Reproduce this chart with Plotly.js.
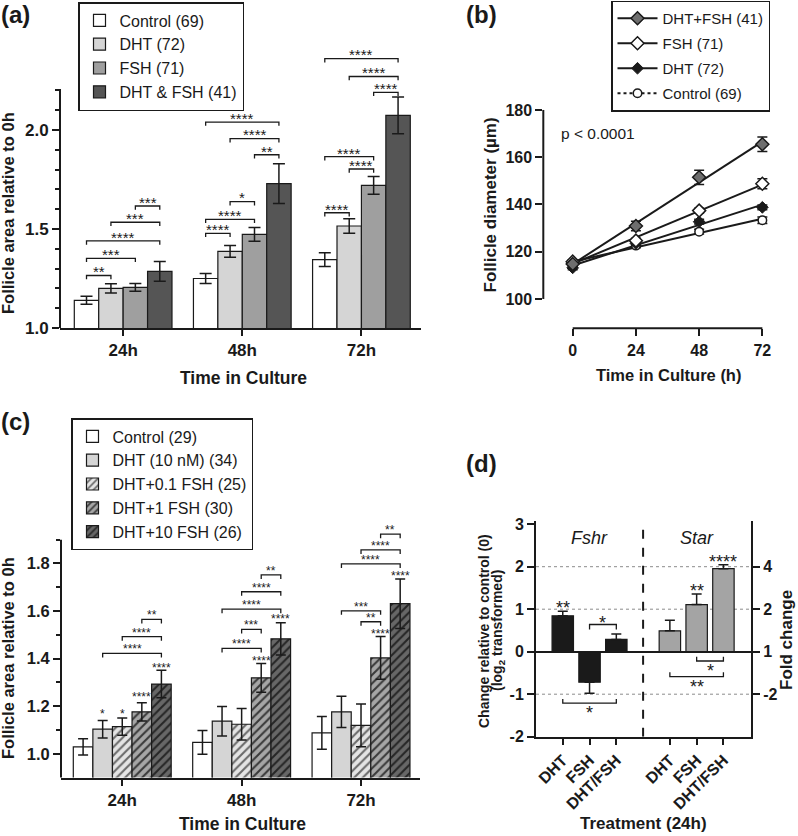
<!DOCTYPE html>
<html>
<head>
<meta charset="utf-8">
<script src="https://cdn.plot.ly/plotly-3.0.1.min.js"></script>
<style>html,body{margin:0;padding:0;background:#fff}#chart{width:798px;height:836px}</style>
</head>
<body>
<div id="chart"></div>
<script>
// ================= DATA =================
// ---- Panel (a): follicle area relative to 0h ----
const timepointsA = ['24h', '48h', '72h'];
const groupsA = ['Control (69)', 'DHT (72)', 'FSH (71)', 'DHT & FSH (41)'];
const controlA = [1.14, 1.25, 1.345];
const controlAErr = [0.02, 0.025, 0.035];
const dhtA = [1.20, 1.387, 1.515];
const dhtAErr = [0.023, 0.03, 0.037];
const fshA = [1.205, 1.473, 1.72];
const fshAErr = [0.02, 0.035, 0.045];
const dhtFshA = [1.286, 1.729, 2.074];
const dhtFshAErr = [0.05, 0.1, 0.093];
const yTickValsA = [1.0, 1.5, 2.0];
const yTickTextA = ['1.0', '1.5', '2.0'];
const yMinorA = [1.1, 1.2, 1.3, 1.4, 1.6, 1.7, 1.8, 1.9, 2.1, 2.2];
// significance brackets (a)
const sigTimeA  = [0, 0, 0, 0, 0, 1, 1, 1, 1, 1, 1, 2, 2, 2, 2, 2, 2];
const sigFromA  = [0, 0, 0, 1, 2, 0, 0, 1, 2, 1, 0, 0, 1, 0, 2, 1, 0];
const sigToA    = [1, 2, 3, 3, 3, 1, 2, 2, 3, 3, 3, 1, 2, 2, 3, 3, 3];
const sigLevelA = [1.265, 1.352, 1.44, 1.534, 1.616, 1.478, 1.549, 1.638, 1.875, 1.956, 2.04, 1.582, 1.803, 1.865, 2.19, 2.27, 2.36];
const sigLabelA = ['**', '***', '****', '***', '***', '****', '****', '*', '**', '****', '****', '****', '****', '****', '****', '****', '****'];

// ---- Panel (b): follicle diameter ----
const hoursB = [0, 24, 48, 72];
const seriesB = ['DHT+FSH (41)', 'FSH (71)', 'DHT (72)', 'Control (69)'];
const diamDhtFsh = [114.8, 130.9, 151.5, 165.5];
const diamDhtFshErr = [0.8, 2.0, 3.0, 3.1];
const diamFsh = [115.8, 124.7, 137.4, 148.8];
const diamFshErr = [0.8, 1.0, 1.0, 2.1];
const diamDht = [113.2, 123.5, 132.7, 138.8];
const diamDhtErr = [0.8, 0.9, 1.0, 1.0];
const diamControl = [115.1, 122.6, 128.5, 133.3];
const diamControlErr = [0.8, 0.9, 1.0, 1.4];
const yTickValsB = [100, 120, 140, 160, 180];
const pValueB = 'p < 0.0001';

// ---- Panel (c): DHT + FSH doses ----
const timepointsC = ['24h', '48h', '72h'];
const groupsC = ['Control (29)', 'DHT (10 nM) (34)', 'DHT+0.1 FSH (25)', 'DHT+1 FSH (30)', 'DHT+10 FSH (26)'];
const controlC = [1.029, 1.048, 1.088];
const controlCErr = [0.034, 0.05, 0.069];
const dhtC = [1.103, 1.137, 1.176];
const dhtCErr = [0.037, 0.062, 0.066];
const dht01C = [1.114, 1.124, 1.119];
const dht01CErr = [0.036, 0.066, 0.09];
const dht1C = [1.176, 1.319, 1.403];
const dht1CErr = [0.038, 0.06, 0.09];
const dht10C = [1.293, 1.483, 1.631];
const dht10CErr = [0.058, 0.068, 0.104];
const yTickValsC = [1.0, 1.2, 1.4, 1.6, 1.8];
const yTickTextC = ['1.0', '1.2', '1.4', '1.6', '1.8'];
const yMinorC = [1.1, 1.3, 1.5, 1.7, 1.9];
// stars vs control above bars (c)
const starTimeC  = [0, 0, 0, 0, 1, 1, 2, 2];
const starGroupC = [1, 2, 3, 4, 3, 4, 3, 4];
const starLevelC = [1.18, 1.18, 1.25, 1.373, 1.40, 1.576, 1.516, 1.759];
const starLabelC = ['*', '*', '****', '****', '****', '****', '****', '****'];
// significance brackets (c)
const sigTimeC  = [0, 0, 0, 1, 1, 1, 1, 1, 2, 2, 2, 2, 2];
const sigFromC  = [1, 2, 3, 1, 2, 1, 2, 3, 2, 1, 1, 2, 3];
const sigToC    = [4, 4, 4, 3, 3, 4, 4, 4, 3, 3, 4, 4, 4];
const sigLevelC = [1.422, 1.492, 1.565, 1.443, 1.523, 1.608, 1.681, 1.752, 1.555, 1.601, 1.798, 1.857, 1.923];
const sigLabelC = ['****', '****', '**', '****', '***', '****', '****', '**', '**', '***', '****', '****', '**'];

// ---- Panel (d): gene expression ----
const genesD = ['Fshr', 'Star'];
const treatmentsD = ['DHT', 'FSH', 'DHT/FSH'];
const fshrD = [0.844, -0.719, 0.289];
const fshrDErr = [0.11, 0.26, 0.13];
const starD = [0.492, 1.109, 1.953];
const starDErr = [0.25, 0.25, 0.094];
const yTickValsD = [-2, -1, 0, 1, 2, 3];
const yTickTextD = ['-2', '-1', '0', '1', '2', '3'];
const foldTickVals = [2, 1, 0, -1];
const foldTickText = ['4', '2', '1', '-2'];
const gridLevelsD = [2, 1, -1];
// stars above bars (d)
const starGeneD  = [0, 1, 1];
const starTreatD = [0, 1, 2];
const starLevelD = [1.11, 1.52, 2.21];
const starLabelD = ['**', '**', '****'];
// brackets (d)
const brGeneD  = [0, 0, 1, 1];
const brFromD  = [1, 0, 1, 0];
const brToD    = [2, 2, 2, 2];
const brLevelD = [0.64, -1.21, -0.219, -0.586];
const brSideD  = ['above', 'below', 'below', 'below'];
const brLabelD = ['*', '*', '*', '**'];

// ================= STYLE / LAYOUT HELPERS =================
const FONT = 'Liberation Sans, Arial, Helvetica, sans-serif';
const INK = '#1a1a1a';
const W = 798, H = 836;
const fx = p => p / W;
const fy = p => 1 - p / H;
const BARGAP = 0.18;

function barCenter(groupIdx, traceIdx, nTraces) {
  const w = (1 - BARGAP) / nTraces;
  return groupIdx - (1 - BARGAP) / 2 + (traceIdx + 0.5) * w;
}

const traces = [];
const annotations = [];
const shapes = [];

function addText(xref, yref, x, y, text, size, opts) {
  annotations.push(Object.assign({
    xref, yref, x, y, text, showarrow: false,
    font: {family: FONT, size: size, color: INK},
    xanchor: 'center', yanchor: 'middle'
  }, opts || {}));
}
function bracket(xref, yref, x0, x1, y, tick, dir) {
  // dir = +1 : legs point down ; dir = -1 : legs point up
  shapes.push({
    type: 'path', xref, yref, layer: 'above',
    path: `M${x0},${y - dir * tick} L${x0},${y} L${x1},${y} L${x1},${y - dir * tick}`,
    line: {color: INK, width: 1.3}
  });
}

// ================= PANEL (a) =================
const barsA = [controlA, dhtA, fshA, dhtFshA];
const errsA = [controlAErr, dhtAErr, fshAErr, dhtFshAErr];
const colorsA = ['#ffffff', '#d5d5d5', '#9f9f9f', '#555555'];
const xIdxA = timepointsA.map((_, i) => i);
groupsA.forEach((name, g) => {
  traces.push({
    type: 'bar', name: name, x: xIdxA, y: barsA[g], xaxis: 'x', yaxis: 'y', legend: 'legend',
    marker: {color: colorsA[g], line: {color: INK, width: 1.2}},
    error_y: {type: 'data', array: errsA[g], color: INK, thickness: 1.5, width: 6}
  });
});
sigLabelA.forEach((lab, k) => {
  const x0 = barCenter(sigTimeA[k], sigFromA[k], groupsA.length);
  const x1 = barCenter(sigTimeA[k], sigToA[k], groupsA.length);
  bracket('x', 'y', x0, x1, sigLevelA[k], 0.019, 1);
  addText('x', 'y', (x0 + x1) / 2, sigLevelA[k], lab, 15, {yshift: 7 - 0.22 * 15});
});

// ================= PANEL (b) =================
const diamB = [diamDhtFsh, diamFsh, diamDht, diamControl];
const diamErrB = [diamDhtFshErr, diamFshErr, diamDhtErr, diamControlErr];
const markB = [
  {symbol: 'diamond', size: 10, color: '#6e6e6e', line: {color: INK, width: 1.5}},
  {symbol: 'diamond', size: 10, color: '#ffffff', line: {color: INK, width: 1.5}},
  {symbol: 'diamond', size: 9, color: INK, line: {color: INK, width: 1}},
  {symbol: 'circle', size: 8.5, color: '#ffffff', line: {color: INK, width: 1.5}}
];
const dashB = ['solid', 'solid', 'solid', 'dot'];
function linFit(xs, ys) {
  const n = xs.length;
  const mx = xs.reduce((a, b) => a + b, 0) / n;
  const my = ys.reduce((a, b) => a + b, 0) / n;
  let sxy = 0, sxx = 0;
  for (let i = 0; i < n; i++) { sxy += (xs[i] - mx) * (ys[i] - my); sxx += (xs[i] - mx) * (xs[i] - mx); }
  const m = sxy / sxx;
  return {m: m, b: my - m * mx};
}
// regression lines
seriesB.forEach((name, k) => {
  const f = linFit(hoursB, diamB[k]);
  const xe = [hoursB[0], hoursB[hoursB.length - 1]];
  traces.push({
    type: 'scatter', mode: 'lines', x: xe, y: xe.map(v => f.b + f.m * v),
    xaxis: 'x2', yaxis: 'y2', showlegend: false, hoverinfo: 'skip',
    line: {color: INK, width: 2}
  });
});
// points with error bars (drawn back-to-front)
for (let k = seriesB.length - 1; k >= 0; k--) {
  traces.push({
    type: 'scatter', mode: 'markers', x: hoursB, y: diamB[k], name: seriesB[k],
    xaxis: 'x2', yaxis: 'y2', showlegend: false,
    marker: markB[k],
    error_y: {type: 'data', array: diamErrB[k], color: INK, thickness: 1.5, width: 5}
  });
}
// legend entries for (b)
seriesB.forEach((name, k) => {
  traces.push({
    type: 'scatter', mode: 'lines+markers', x: [null], y: [null], name: name,
    xaxis: 'x2', yaxis: 'y2', legend: 'legend2', legendgroup: 'b' + k,
    marker: markB[k], line: {color: INK, width: 2, dash: dashB[k]}
  });
});

// ================= PANEL (c) =================
const barsC = [controlC, dhtC, dht01C, dht1C, dht10C];
const errsC = [controlCErr, dhtCErr, dht01CErr, dht1CErr, dht10CErr];
const fillC = ['#ffffff', '#d5d5d5', '#e4e4e4', '#a6a6a6', '#676767'];
const hatchC = [null, null, '#6a6a6a', '#3a3a3a', '#262626'];
const xIdxC = timepointsC.map((_, i) => i);
groupsC.forEach((name, g) => {
  const marker = {color: fillC[g], line: {color: INK, width: 1.2}};
  if (hatchC[g]) marker.pattern = {shape: '/', fillmode: 'replace', bgcolor: fillC[g], fgcolor: hatchC[g], size: 6, solidity: 0.35};
  traces.push({
    type: 'bar', name: name, x: xIdxC, y: barsC[g], xaxis: 'x3', yaxis: 'y3', legend: 'legend3',
    marker: marker,
    error_y: {type: 'data', array: errsC[g], color: INK, thickness: 1.5, width: 5}
  });
});
starLabelC.forEach((lab, k) => {
  addText('x3', 'y3', barCenter(starTimeC[k], starGroupC[k], groupsC.length), starLevelC[k], lab, 12, {yshift: -0.22 * 12});
});
sigLabelC.forEach((lab, k) => {
  const x0 = barCenter(sigTimeC[k], sigFromC[k], groupsC.length);
  const x1 = barCenter(sigTimeC[k], sigToC[k], groupsC.length);
  bracket('x3', 'y3', x0, x1, sigLevelC[k], 0.017, 1);
  addText('x3', 'y3', (x0 + x1) / 2, sigLevelC[k], lab, 12, {yshift: 6.7 - 0.22 * 12});
});

// ================= PANEL (d) =================
const SLOT = treatmentsD.length + 1;
const valsD = [fshrD, starD];
const errsD = [fshrDErr, starDErr];
const colorsD = [INK, '#a4a4a4'];
const xD = [], yD = [], plusD = [], minusD = [], colD = [], tickTextD = [];
genesD.forEach((g, gi) => {
  treatmentsD.forEach((t, ti) => {
    const v = valsD[gi][ti], e = errsD[gi][ti];
    xD.push(gi * SLOT + ti); yD.push(v);
    plusD.push(v >= 0 ? e : 0); minusD.push(v < 0 ? e : 0);
    colD.push(colorsD[gi]); tickTextD.push(t);
  });
});
traces.push({
  type: 'bar', x: xD, y: yD, width: 0.8, xaxis: 'x4', yaxis: 'y4', showlegend: false,
  marker: {color: colD, line: {color: INK, width: 1.2}},
  error_y: {type: 'data', symmetric: false, array: plusD, arrayminus: minusD, color: INK, thickness: 1.5, width: 5}
});
// invisible companion so the fold-change (right) axis is drawn on the same scale
traces.push({
  type: 'scatter', mode: 'markers', x: xD, y: yD, xaxis: 'x4', yaxis: 'y5', showlegend: false,
  hoverinfo: 'skip', marker: {opacity: 0, size: 1}
});
genesD.forEach((g, gi) => {
  addText('x4', 'y4', gi * SLOT + 1, 2.67, '<i>' + g + '</i>', 18);
});
starLabelD.forEach((lab, k) => {
  addText('x4', 'y4', starGeneD[k] * SLOT + starTreatD[k], starLevelD[k], lab, 18, {yshift: -0.22 * 18});
});
brLabelD.forEach((lab, k) => {
  const x0 = brGeneD[k] * SLOT + brFromD[k];
  const x1 = brGeneD[k] * SLOT + brToD[k];
  const above = brSideD[k] === 'above';
  bracket('x4', 'y4', x0, x1, brLevelD[k], above ? 0.118 : 0.1, above ? 1 : -1);
  addText('x4', 'y4', (x0 + x1) / 2, brLevelD[k], lab, 18, {yshift: above ? 5.3 - 0.22 * 18 : -6 - 0.22 * 18});
});
gridLevelsD.forEach(v => {
  shapes.push({type: 'line', xref: 'x4 domain', yref: 'y4', x0: 0, x1: 1, y0: v, y1: v, layer: 'below',
    line: {color: '#8c8c8c', width: 1, dash: 'dot'}});
});
// dashed separator between genes
shapes.push({type: 'line', xref: 'x4', yref: 'y4', x0: treatmentsD.length, x1: treatmentsD.length, y0: -2, y1: 3.05,
  line: {color: INK, width: 2, dash: 'dash'}});

// ================= AXIS LINES (offset, GraphPad style) =================
const rangeA = [1, 2.42], rangeB_y = [87.6, 182.1], rangeB_x = [-11.16, 76.8], rangeC = [0.9, 1.95];
const frac = (v, r) => (v - r[0]) / (r[1] - r[0]);
shapes.push({type: 'line', xref: 'x domain', yref: 'y domain', x0: 0, x1: 0, y0: 0, y1: frac(2.207, rangeA), line: {color: INK, width: 2}});
shapes.push({type: 'line', xref: 'x3 domain', yref: 'y3 domain', x0: 0, x1: 0, y0: 0, y1: frac(1.9, rangeC), line: {color: INK, width: 2}});
shapes.push({type: 'line', xref: 'x2 domain', yref: 'y2 domain', x0: 0, x1: 0, y0: frac(100, rangeB_y), y1: frac(180, rangeB_y), line: {color: INK, width: 2}});
shapes.push({type: 'line', xref: 'x2 domain', yref: 'y2 domain', x0: frac(0, rangeB_x), x1: frac(72, rangeB_x), y0: 0, y1: 0, line: {color: INK, width: 2}});

// ================= TEXT: titles, panel labels =================
function title(x, y, text, size, angle) {
  annotations.push({xref: 'paper', yref: 'paper', x: fx(x), y: fy(y), text: '<b>' + text + '</b>', showarrow: false,
    textangle: angle || 0, xanchor: 'center', yanchor: 'middle',
    font: {family: FONT, size: size, color: INK, weight: 'bold'}});
}
title(8, 213, 'Follicle area relative to 0h', 16.5, -90);
title(243, 378, 'Time in Culture', 17.5);
title(490.5, 205, 'Follicle diameter (µm)', 17, -90);
title(668, 375, 'Time in Culture (h)', 16.5);
title(8, 658, 'Follicle area relative to 0h', 16.5, -90);
title(242, 824, 'Time in Culture', 17.5);
title(484, 631, 'Change relative to control (0)', 14, -90);
title(498, 631, '(log<sub>2</sub> transformed)', 14, -90);
title(786, 640, 'Fold change', 17, -90);
title(643, 823, 'Treatment (24h)', 17);
function panelLabel(x, y, t) {
  annotations.push({xref: 'paper', yref: 'paper', x: fx(x), y: fy(y), text: '<b>' + t + '</b>', showarrow: false,
    xanchor: 'left', yanchor: 'middle', font: {family: FONT, size: 24, color: INK, weight: 'bold'}});
}
panelLabel(-1, 15, '(a)');
panelLabel(464, 15, '(b)');
panelLabel(-1, 421, '(c)');
panelLabel(464, 463, '(d)');
addText('x2', 'y2', 9.6, 170.2, pValueB, 15.5);

// ================= AXES =================
const axBase = {
  showgrid: false, zeroline: false, ticks: 'outside', tickwidth: 2, tickcolor: INK,
  linecolor: INK, linewidth: 2, fixedrange: true, automargin: false,
  tickfont: {family: FONT, size: 17, color: INK, weight: 'bold'}
};
const minorBase = {tickmode: 'array', ticks: 'outside', ticklen: 4, tickwidth: 2, tickcolor: INK, showgrid: false};

const legendBase = {
  bgcolor: '#ffffff', bordercolor: INK, borderwidth: 1.5, xanchor: 'left', yanchor: 'top',
  itemclick: false, itemdoubleclick: false
};

const layout = {
  width: W, height: H, margin: {l: 0, r: 0, t: 0, b: 0},
  paper_bgcolor: '#ffffff', plot_bgcolor: 'rgba(0,0,0,0)',
  barmode: 'group', bargap: BARGAP, bargroupgap: 0,
  font: {family: FONT, color: INK},
  showlegend: true,
  xaxis: Object.assign({}, axBase, {
    domain: [fx(60), fx(421)], range: [-0.53, 2.5], anchor: 'y',
    tickmode: 'array', tickvals: xIdxA, ticktext: timepointsA, ticklen: 6, showline: true
  }),
  yaxis: Object.assign({}, axBase, {
    domain: [fy(328), fy(46.8)], range: rangeA, anchor: 'x',
    tickmode: 'array', tickvals: yTickValsA, ticktext: yTickTextA, ticklen: 7, showline: false,
    minor: Object.assign({}, minorBase, {tickvals: yMinorA})
  }),
  xaxis2: Object.assign({}, axBase, {
    domain: [fx(543.3), fx(775)], range: rangeB_x, anchor: 'y2',
    tickmode: 'array', tickvals: hoursB, ticktext: hoursB.map(String), ticklen: 7, showline: false,
    tickfont: {family: FONT, size: 16, color: INK, weight: 'bold'}
  }),
  yaxis2: Object.assign({}, axBase, {
    domain: [fy(328.3), fy(105)], range: rangeB_y, anchor: 'x2',
    tickmode: 'array', tickvals: yTickValsB, ticktext: yTickValsB.map(String), ticklen: 7, showline: false,
    tickfont: {family: FONT, size: 16, color: INK, weight: 'bold'}
  }),
  xaxis3: Object.assign({}, axBase, {
    domain: [fx(61), fx(420)], range: [-0.513, 2.494], anchor: 'y3',
    tickmode: 'array', tickvals: xIdxC, ticktext: timepointsC, ticklen: 6, showline: true
  }),
  yaxis3: Object.assign({}, axBase, {
    domain: [fy(777.5), fy(527.8)], range: rangeC, anchor: 'x3',
    tickmode: 'array', tickvals: yTickValsC, ticktext: yTickTextC, ticklen: 7, showline: false,
    tickfont: {family: FONT, size: 16.5, color: INK, weight: 'bold'},
    minor: Object.assign({}, minorBase, {tickvals: yMinorC})
  }),
  xaxis4: Object.assign({}, axBase, {
    domain: [fx(536), fx(751)], range: [-1, 7.03], anchor: 'y4',
    tickmode: 'array', tickvals: xD, ticktext: tickTextD, tickangle: -45, ticklen: 6, showline: true,
    tickfont: {family: FONT, size: 16, color: INK, weight: 'bold'}
  }),
  yaxis4: Object.assign({}, axBase, {
    domain: [fy(736.7), fy(520.8)], range: [-2, 3.08], anchor: 'x4',
    tickmode: 'array', tickvals: yTickValsD, ticktext: yTickTextD, ticklen: 7, showline: true,
    zeroline: true, zerolinecolor: INK, zerolinewidth: 2,
    tickfont: {family: FONT, size: 16, color: INK, weight: 'bold'}
  }),
  yaxis5: Object.assign({}, axBase, {
    overlaying: 'y4', side: 'right', anchor: 'x4', range: [-2, 3.08],
    tickmode: 'array', tickvals: foldTickVals, ticktext: foldTickText, ticklen: 7, showline: true,
    tickfont: {family: FONT, size: 16, color: INK, weight: 'bold'}
  }),
  legend: Object.assign({}, legendBase, {
    x: fx(78), y: fy(2), font: {family: FONT, size: 16, color: INK}, itemwidth: 30
  }),
  legend2: Object.assign({}, legendBase, {
    x: fx(611), y: fy(0.5), font: {family: FONT, size: 15, color: INK}, itemwidth: 40, tracegroupgap: 2.5
  }),
  legend3: Object.assign({}, legendBase, {
    x: fx(71), y: fy(418), font: {family: FONT, size: 16, color: INK}, itemwidth: 30
  }),
  annotations: annotations,
  shapes: shapes
};

Plotly.newPlot('chart', traces, layout, {displayModeBar: false, staticPlot: true});
</script>
</body>
</html>
